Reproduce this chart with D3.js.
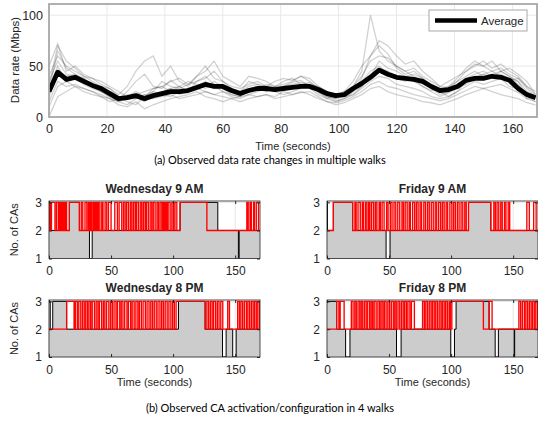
<!DOCTYPE html>
<html>
<head>
<meta charset="utf-8">
<script src="https://cdn.jsdelivr.net/npm/d3@7"></script>
<style>
  body { margin: 0; background: #fff; }
  text { font-family: "Liberation Sans", Arial, sans-serif; fill: #262626; }
  .caption { font-family: Lato, "Open Sans", sans-serif; fill: #000; }
</style>
</head>
<body>
<div class="canvas"></div>
<script>
// ---- (a) data rate in multiple walks ----
const walkTimes = [0,3,6,9,12,15,18,21,24,27,30,33,36,39,42,45,48,51,54,57,60,63,66,69,72,75,78,81,84,87,90,93,96,99,102,105,108,111,114,117,120,123,126,129,132,135,138,141,144,147,150,153,156,159,162,165,168];

const walkA = [30,70,55,48,40,35,30,28,22,30, 45,55,60,40,50,35,30,40,45,55, 40,35,30,40,38,35,30,32,35,40, 38,30,25,20,22,30,45,100,65,55, 50,45,48,40,35,30,28,35,45,50, 55,48,52,45,40,30,25];
const walkB = [0,20,25,30,28,25,22,18,12,10, 15,8,12,15,18,20,22,25,20,18, 15,18,20,22,20,22,18,20,22,25, 22,18,15,12,14,18,22,28,30,25, 22,20,18,15,14,12,15,18,22,25, 28,25,22,20,18,14,12];
const walkC = [20,45,40,42,38,30,25,20,15,18, 20,15,22,25,28,22,25,30,35,28, 28,22,20,28,30,25,28,30,32,34, 32,25,20,18,20,25,30,40,55,48, 45,40,42,38,32,25,20,25,35,40, 42,38,45,40,35,20,15];
const walkD = [50,72,45,50,42,38,35,30,25,20, 25,20,28,30,35,38,32,40,50,38, 35,30,28,32,35,30,35,38,36,40, 35,28,22,18,25,35,50,60,75,70, 60,52,55,45,38,30,35,40,45,52, 50,55,45,48,42,35,22];
const walkE = [15,35,30,32,28,25,20,15,18,22, 18,20,25,22,20,25,28,28,25,22, 25,20,18,22,25,28,25,22,25,28, 30,25,18,15,18,22,28,35,40,38, 32,30,28,25,20,18,20,25,30,35, 32,35,38,30,28,22,18];
const walkF = [40,60,50,45,40,38,32,28,20,18, 22,25,28,30,25,30,35,32,28,35, 30,25,22,25,28,32,30,35,38,32, 28,22,18,22,25,30,40,55,60,58, 50,45,40,35,28,22,25,30,38,42, 45,40,42,38,35,25,20];
const walkG = [28,50,35,38,32,28,25,20,16,20, 18,22,20,24,28,30,25,30,32,30, 25,22,20,25,28,25,30,28,30,32, 34,28,22,20,25,28,35,45,50,42, 38,35,38,30,26,28,30,35,40,45, 40,42,45,40,32,18,20];
const walkH = [35,55,42,40,38,32,28,25,20,15, 12,20,25,35,30,28,32,35,40,32, 30,28,25,30,32,28,25,30,28,30, 32,30,25,22,20,22,30,42,48,45, 40,38,35,30,25,20,24,28,32,38, 42,45,40,36,38,30,22];
const walkI = [25,65,48,42,36,30,25,22,18,25, 35,42,30,28,36,30,25,35,38,45, 35,28,25,35,32,30,28,30,34,36, 30,24,20,16,18,25,38,60,70,62, 48,42,45,38,30,25,30,38,48,55, 50,45,48,42,38,28,20];
const walkJ = [10,30,35,30,25,22,20,18,15,12, 18,22,18,20,22,18,20,22,25,22, 20,18,15,18,20,22,20,25,22,24, 25,20,15,14,16,20,25,32,35,30, 28,25,22,20,18,16,18,22,26,30, 28,30,32,28,24,18,15];
const averageRate = [25,44,37,39,35,31,28,23,18,19, 21,18,21,23,25,25,26,29,32,30, 30,26,23,26,28,28,27,28,29,30, 30,27,23,21,22,28,33,39,46,42, 39,38,37,35,30,26,27,30,36,38, 38,40,39,36,28,22,19];

const rateXTicks = [0,20,40,60,80,100,120,140,160];
const rateYTicks = [0,50,100];

// ---- (b) CA activation (grey area) / configuration (red) ----
// activation: [time, number of CAs] change points
const wed9Active = [[0,3],[1.5,2],[16.4,3],[24.5,2],[32.6,1],[34.8,2],[105.6,3],[136,2],[152.6,1],[153.2,2]];
const wed8Active = [[0,3],[1,2],[3,3],[14.2,2],[104.3,3],[125.8,2],[139.8,1],[142.7,2],[148,1],[150.8,2]];
const fri9Active = [[0,3],[0.4,2],[5.1,3],[20.7,2],[47.6,1],[50.8,2],[114,3],[132,2]];
const fri8Active = [[0,3],[7.8,2],[15,1],[18.5,2],[56,1],[59.7,2],[99.7,1],[102.7,2],[104,3],[130.6,2],[135.5,1],[138.1,2],[150.8,1],[151.2,2]];

// configuration: intervals [start, end] with 3 CAs (otherwise 2)
const wed9Config = [[0,0.8],[2,4.8],[6,7.5],[8.5,9.4],[10.2,11],[12,12.4],[13.5,14.2],[16.4,24.5],[26,27.2],[29,30.5],[31.7,32.5],[33.6,34.5],[35.7,36.8],[37.9,38.8],[39.8,41],[42.5,43.5],[45.2,46.5],[47.9,50],[53,55.1],[56.5,58.6],[60,61.3],[62.5,64],[65.5,66.7],[68,69.4],[70.5,72],[73.5,74.7],[76,77.4],[78.5,80],[81.5,82.8],[84,85.5],[87,88.2],[89.5,90.9],[91.8,92.7],[93.8,94.9],[96,97.6],[99,100.3],[101.5,103],[105.6,127.2],[159.4,160.5],[162,163],[164.8,165.5],[167,168.8]];
const wed8Config = [[14.2,20.2],[21.2,22.8],[24,25.6],[27,28.4],[29.6,31],[32.2,33.6],[34.8,36.6],[38,39.4],[40.6,42.4],[43.8,45],[46.4,48.2],[49.6,51],[52.4,54],[55.2,57],[58.2,59.6],[61,62.8],[64,65.8],[67,68.6],[70,71.6],[72.8,74.4],[75.8,77.6],[79,80.6],[82,83.4],[84.8,86.4],[87.8,89.4],[90.8,92.2],[93.6,95.2],[96.6,98.2],[99.6,101],[102.4,125.8],[127.2,128.6],[130,131.4],[132.6,134.2],[135.6,137],[138.4,140],[144,145.4],[152,153.4],[154.6,156],[157.4,159],[160.2,161.6],[163,164.4],[165.6,167],[168.2,169.6]];
const fri9Config = [[5.1,20.7],[22.5,23.5],[25,26.8],[28.4,29.4],[31,32.2],[33.6,34.6],[36,37.6],[39,40.2],[42,43],[44.4,46],[48,49.2],[51,52.4],[54,55.4],[57,58.6],[60.4,61.6],[63,64.6],[66.2,67.2],[69,70.6],[72,73.4],[75,76.2],[78,79.4],[81,82.4],[84,85.6],[87.2,88.4],[90,91.6],[93,94.4],[96,97.2],[99,100.6],[102,103.4],[105,106.4],[108,109.4],[111,112.2],[114,132],[134.4,135.6],[137,138.4],[140,141.2],[143,144.2],[146,147.2],[161,163],[166.5,168.5]];
const fri8Config = [[7.8,9.6],[10.6,13.8],[19.6,21],[22.4,23.6],[25,26.4],[27.6,28.8],[30.2,31.6],[32.8,34.4],[35.6,36.8],[38,39.6],[41,42.4],[43.6,45],[46.2,47.6],[49,50.4],[51.8,53.4],[54.6,55.8],[57.2,58.6],[60,61.4],[62.6,64],[65.2,66.8],[68,70.4],[77,78.4],[79.6,81],[82.4,83.8],[85,86.4],[87.6,89],[90.4,91.8],[93,94.4],[95.6,97],[98.4,99.4],[100.6,126],[130.6,133],[154.6,156],[157.4,159],[160.2,161.6],[163,164.4],[165.6,167],[168.2,169.6]];

const caXTicks = [0,50,100,150];
const caYTicks = [1,2,3];

const svg = d3.select('.canvas')
  .append('svg')
  .attr('width', 538)
  .attr('height', 425);

// ================= top panel =================
const rx = d3.scaleLinear().domain([0, 168.5]).range([49, 537]);
const ry = d3.scaleLinear().domain([0, 111]).range([117, 4]);

svg.append('clipPath').attr('id', 'clipTop')
  .append('rect').attr('x', 49).attr('y', 4).attr('width', 488).attr('height', 113);

const topG = svg.append('g');

// grid
topG.selectAll('.gx').data(rateXTicks).enter().append('line')
  .attr('x1', d => rx(d)).attr('x2', d => rx(d)).attr('y1', 4).attr('y2', 117)
  .attr('stroke', '#e8e8e8');
topG.selectAll('.gy').data(rateYTicks).enter().append('line')
  .attr('x1', 49).attr('x2', 537).attr('y1', d => ry(d)).attr('y2', d => ry(d))
  .attr('stroke', '#e8e8e8');

const rateLine = d3.line()
  .x((d, i) => rx(walkTimes[i]))
  .y(d => ry(d));

const walks = [walkA, walkB, walkC, walkD, walkE, walkF, walkG, walkH, walkI, walkJ];
topG.append('g').attr('clip-path', 'url(#clipTop)')
  .selectAll('path').data(walks).enter().append('path')
  .attr('d', rateLine)
  .attr('fill', 'none')
  .attr('stroke', '#000')
  .attr('stroke-opacity', 0.18)
  .attr('stroke-width', 1.3);

topG.append('path')
  .attr('clip-path', 'url(#clipTop)')
  .attr('d', rateLine(averageRate))
  .attr('fill', 'none')
  .attr('stroke', '#000')
  .attr('stroke-width', 4.8)
  .attr('stroke-linejoin', 'round');

topG.append('rect')
  .attr('x', 49).attr('y', 4).attr('width', 488).attr('height', 113)
  .attr('fill', 'none').attr('stroke', '#a8a8a8').attr('stroke-width', 1.8);

topG.append('g')
  .attr('transform', 'translate(0,117)')
  .call(d3.axisBottom(rx).tickValues(rateXTicks).tickSize(0).tickPadding(7))
  .call(g => g.select('.domain').remove())
  .selectAll('text').style('font-size', '12.5px').style('font-family', '"Liberation Sans", Arial, sans-serif').attr('fill', '#262626');

topG.append('g')
  .attr('transform', 'translate(49,0)')
  .call(d3.axisLeft(ry).tickValues(rateYTicks).tickSize(0).tickPadding(6))
  .call(g => g.select('.domain').remove())
  .selectAll('text').style('font-size', '12.5px').style('font-family', '"Liberation Sans", Arial, sans-serif').attr('fill', '#262626');

topG.append('text')
  .attr('x', 293).attr('y', 150)
  .attr('text-anchor', 'middle')
  .style('font-size', '11px')
  .text('Time (seconds)');

topG.append('text')
  .attr('transform', 'translate(19,60) rotate(-90)')
  .attr('text-anchor', 'middle')
  .style('font-size', '11.5px')
  .text('Data rate (Mbps)');

// legend
const legend = topG.append('g');
legend.append('rect')
  .attr('x', 429).attr('y', 10).attr('width', 98).attr('height', 21)
  .attr('fill', '#fff').attr('stroke', '#a8a8a8').attr('stroke-width', 1);
legend.append('line')
  .attr('x1', 435).attr('x2', 477).attr('y1', 20.5).attr('y2', 20.5)
  .attr('stroke', '#000').attr('stroke-width', 4.5);
legend.append('text')
  .attr('x', 481).attr('y', 24.5)
  .style('font-size', '11.5px')
  .text('Average');

svg.append('text')
  .attr('class', 'caption')
  .attr('x', 270).attr('y', 164)
  .attr('text-anchor', 'middle')
  .style('font-size', '11px')
  .text('(a) Observed data rate changes in multiple walks');

// ================= CA panels =================
const panels = [
  { title: 'Wednesday 9 AM', active: wed9Active, config: wed9Config, left: 49, top: 201, bottom: 258.5, yLabel: true, xLabel: false },
  { title: 'Friday 9 AM', active: fri9Active, config: fri9Config, left: 327, top: 201, bottom: 258.5, yLabel: false, xLabel: false },
  { title: 'Wednesday 8 PM', active: wed8Active, config: wed8Config, left: 49, top: 300, bottom: 357, yLabel: true, xLabel: true },
  { title: 'Friday 8 PM', active: fri8Active, config: fri8Config, left: 327, top: 300, bottom: 357, yLabel: false, xLabel: true }
];

const panelWidth = 211;

// turn "3 CA" intervals into change points on a base of 2
const configSteps = (intervals) => {
  const pts = [[0, 2]];
  intervals.forEach(([a, b]) => { pts.push([a, 3], [b, 2]); });
  pts.push([170, pts[pts.length - 1][1]]);
  return pts;
};
const activeSteps = (changes) => changes.concat([[170, changes[changes.length - 1][1]]]);

panels.forEach((p, k) => {
  const x = d3.scaleLinear().domain([0, 170]).range([p.left, p.left + panelWidth]);
  const y = d3.scaleLinear().domain([1, 3.05]).range([p.bottom, p.top]);
  const g = svg.append('g');

  svg.append('clipPath').attr('id', 'clipCA' + k)
    .append('rect').attr('x', p.left).attr('y', p.top - 1)
    .attr('width', panelWidth).attr('height', p.bottom - p.top + 1);

  // grid
  g.selectAll('.gx').data(caXTicks).enter().append('line')
    .attr('x1', d => x(d)).attr('x2', d => x(d)).attr('y1', p.top).attr('y2', p.bottom)
    .attr('stroke', '#e6e6e6');
  g.selectAll('.gy').data(caYTicks).enter().append('line')
    .attr('x1', p.left).attr('x2', p.left + panelWidth).attr('y1', d => y(d)).attr('y2', d => y(d))
    .attr('stroke', '#e6e6e6');

  const plot = g.append('g').attr('clip-path', `url(#clipCA${k})`);

  const area = d3.area()
    .curve(d3.curveStepAfter)
    .x(d => x(d[0]))
    .y0(y(1))
    .y1(d => y(d[1]));
  const step = d3.line()
    .curve(d3.curveStepAfter)
    .x(d => x(d[0]))
    .y(d => y(d[1]));

  const act = activeSteps(p.active);
  plot.append('path').attr('d', area(act)).attr('fill', '#cccccc');
  plot.append('path').attr('d', step(act))
    .attr('fill', 'none').attr('stroke', '#000').attr('stroke-width', 1);
  plot.append('path').attr('d', step(configSteps(p.config)))
    .attr('fill', 'none').attr('stroke', '#ff0000').attr('stroke-width', 1.35);

  // box + mirrored ticks
  g.append('rect')
    .attr('x', p.left).attr('y', p.top).attr('width', panelWidth).attr('height', p.bottom - p.top)
    .attr('fill', 'none').attr('stroke', '#262626').attr('stroke-width', 0.8);

  g.append('g')
    .attr('transform', `translate(0,${p.bottom})`)
    .call(d3.axisBottom(x).tickValues(caXTicks).tickSize(-3).tickPadding(8))
    .call(a => a.select('.domain').remove())
    .call(a => a.selectAll('line').attr('stroke', '#262626'))
    .selectAll('text').style('font-size', '12px').style('font-family', '"Liberation Sans", Arial, sans-serif').attr('fill', '#262626');
  g.append('g')
    .attr('transform', `translate(0,${p.top})`)
    .call(d3.axisTop(x).tickValues(caXTicks).tickSize(-3).tickFormat(''))
    .call(a => a.select('.domain').remove())
    .call(a => a.selectAll('line').attr('stroke', '#262626'));

  g.append('g')
    .attr('transform', `translate(${p.left},0)`)
    .call(d3.axisLeft(y).tickValues(caYTicks).tickFormat(d3.format('d')).tickSize(-3).tickPadding(7))
    .call(a => a.select('.domain').remove())
    .call(a => a.selectAll('line').attr('stroke', '#262626'))
    .selectAll('text').style('font-size', '12px').style('font-family', '"Liberation Sans", Arial, sans-serif').attr('fill', '#262626');
  g.append('g')
    .attr('transform', `translate(${p.left + panelWidth},0)`)
    .call(d3.axisRight(y).tickValues(caYTicks).tickSize(-3).tickFormat(''))
    .call(a => a.select('.domain').remove())
    .call(a => a.selectAll('line').attr('stroke', '#262626'));

  g.append('text')
    .attr('x', p.left + panelWidth / 2).attr('y', p.top - 8)
    .attr('text-anchor', 'middle')
    .style('font-size', '12px')
    .style('font-weight', 'bold')
    .attr('fill', '#000')
    .text(p.title);

  if (p.yLabel) {
    g.append('text')
      .attr('transform', `translate(18,${(p.top + p.bottom) / 2}) rotate(-90)`)
      .attr('text-anchor', 'middle')
      .style('font-size', '11px')
      .text('No. of CAs');
  }
  if (p.xLabel) {
    g.append('text')
      .attr('x', p.left + panelWidth / 2).attr('y', p.bottom + 29)
      .attr('text-anchor', 'middle')
      .style('font-size', '11px')
      .text('Time (seconds)');
  }
});

svg.append('text')
  .attr('class', 'caption')
  .attr('x', 270).attr('y', 412)
  .attr('text-anchor', 'middle')
  .style('font-size', '11px')
  .text('(b) Observed CA activation/configuration in 4 walks');
</script>
</body>
</html>
